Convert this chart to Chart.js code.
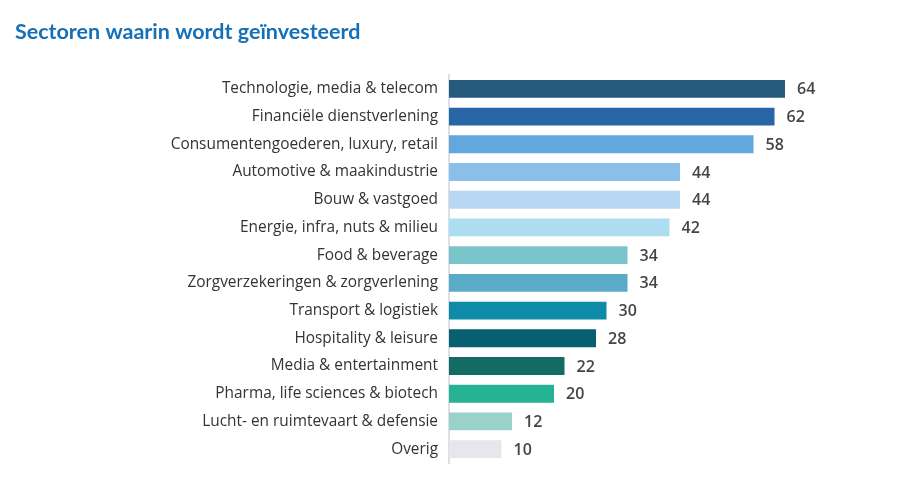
<!DOCTYPE html>
<html><head><meta charset="utf-8">
<script src="https://cdn.jsdelivr.net/npm/chart.js@4/dist/chart.umd.min.js"></script>
<style>html,body{margin:0;padding:0;background:#fff;}#wrap{width:900px;height:492px;position:relative;}</style>
</head><body><div id="wrap"><canvas id="c" width="900" height="492"></canvas></div>
<script>
const title = "Sectoren waarin wordt geïnvesteerd";
const categories = ["Technologie, media & telecom","Financiële dienstverlening","Consumentengoederen, luxury, retail","Automotive & maakindustrie","Bouw & vastgoed","Energie, infra, nuts & milieu","Food & beverage","Zorgverzekeringen & zorgverlening","Transport & logistiek","Hospitality & leisure","Media & entertainment","Pharma, life sciences & biotech","Lucht- en ruimtevaart & defensie","Overig"];
const values = [64,62,58,44,44,42,34,34,30,28,22,20,12,10];
const colors = ["#255A7D","#2866A8","#62A8DC","#8ABFE9","#B8D7F2","#ACDDF0","#79C5C9","#5AABC6","#0E8BA8","#075F70","#146B63","#26B294","#9AD1C8","#E6E7EC"];

const labelPlugin = {
  id:'vals',
  afterDatasetsDraw(chart){
    const ctx = chart.ctx;
    const meta = chart.getDatasetMeta(0);
    ctx.save();
    ctx.font = "600 16px 'Open Sans', sans-serif";
    ctx.fillStyle = "#454545";
    ctx.textAlign = "left";
    ctx.textBaseline = "middle";
    meta.data.forEach((bar,i)=>{
      ctx.fillText(String(values[i]), bar.x + 12, bar.y + 1);
    });
    ctx.restore();
  },
  beforeDraw(chart){
    const ctx = chart.ctx;
    ctx.save();
    ctx.font = "bold 21.5px Lato, sans-serif";
    ctx.fillStyle = "#1570B8";
    ctx.textAlign = "left";
    ctx.textBaseline = "alphabetic";
    ctx.fillText(title, 15, 39);
    ctx.restore();
  }
};

new Chart(document.getElementById('c'), {
  type:'bar',
  data:{labels:categories, datasets:[{data:values, backgroundColor:colors, borderWidth:0, barPercentage:0.92, categoryPercentage:0.7}]},
  options:{
    indexAxis:'y', responsive:false, animation:false,
    layout:{padding:{left:0,right:31,top:75,bottom:29}},
    plugins:{legend:{display:false}, tooltip:{enabled:false}},
    scales:{
      x:{display:false, min:0, max:80},
      y:{
        afterFit(s){ s.width = 449; },
        grid:{display:false, drawTicks:false},
        border:{display:true, color:'#DDDFE6', width:2},
        ticks:{color:'#333333', padding:11, font:{family:"'Open Sans', sans-serif", size:15.4}}
      }
    }
  },
  plugins:[labelPlugin]
});
</script></body></html>
